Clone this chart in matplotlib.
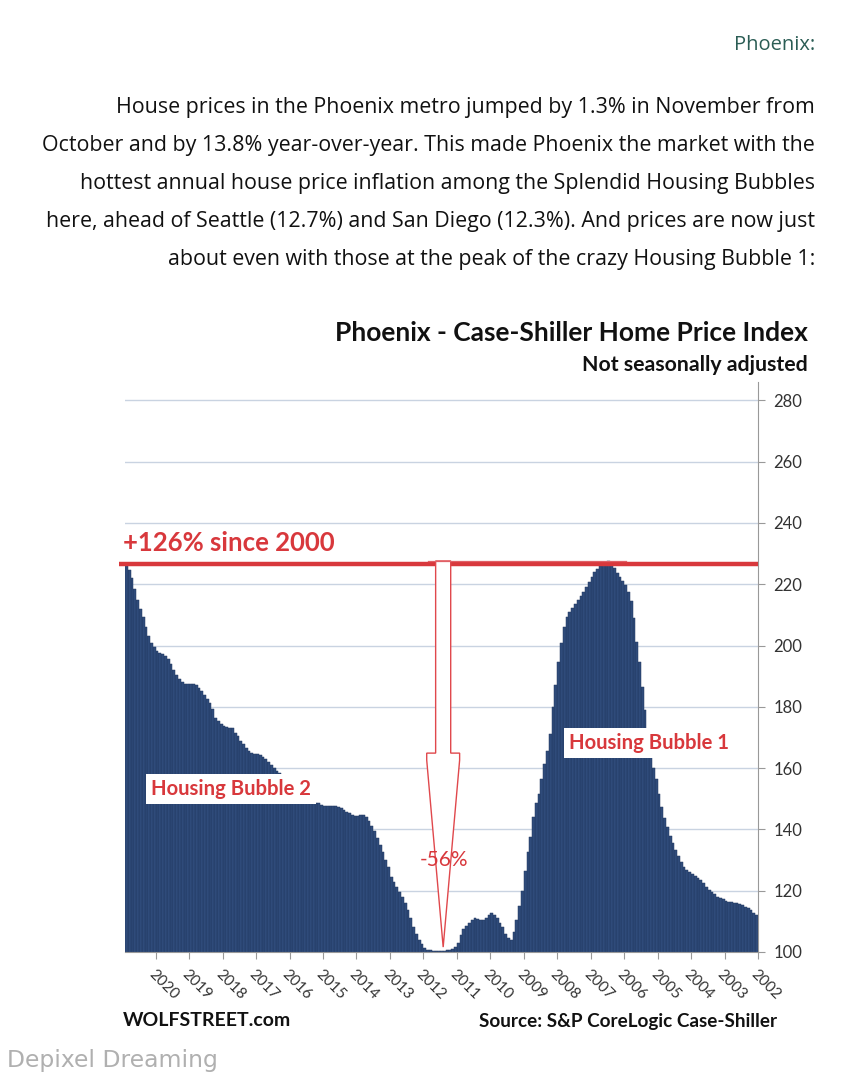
import matplotlib
matplotlib.use("Agg")
import matplotlib.pyplot as plt
from matplotlib.patches import Polygon
import numpy as np

# Phoenix Case-Shiller index, monthly, Jan 2002 .. Nov 2020
years = [2002, 2003, 2004, 2005, 2006, 2007, 2008, 2009, 2010, 2011,
         2012, 2013, 2014, 2015, 2016, 2017, 2018, 2019, 2020]
hpi_2002 = [112.1, 112.8, 113.6, 114.3, 114.8, 115.3, 115.8, 116.0, 116.1, 116.2, 116.4, 116.8]
hpi_2003 = [117.2, 117.6, 118.1, 118.8, 119.5, 120.3, 121.3, 122.4, 123.5, 124.2, 124.9, 125.5]
hpi_2004 = [126.2, 126.9, 127.8, 129.3, 131.2, 133.2, 135.6, 138.0, 140.7, 143.8, 147.3, 151.5]
hpi_2005 = [156.5, 160.2, 166.0, 172.0, 179.0, 186.5, 194.5, 201.0, 209.0, 214.5, 217.5, 219.7]
hpi_2006 = [221.0, 222.3, 223.8, 225.2, 226.6, 227.6, 227.4, 226.8, 226.0, 225.0, 224.0, 222.5]
hpi_2007 = [220.8, 219.0, 217.6, 216.3, 215.0, 213.6, 212.2, 210.8, 209.2, 206.0, 200.8, 194.7]
hpi_2008 = [187.0, 180.0, 171.0, 165.5, 161.5, 156.5, 151.5, 148.5, 144.0, 137.5, 132.5, 126.5]
hpi_2009 = [120.0, 115.0, 110.4, 106.5, 104.0, 104.5, 106.0, 108.0, 109.5, 111.0, 112.0, 112.6]
hpi_2010 = [112.0, 111.0, 110.3, 110.4, 110.8, 111.0, 110.6, 109.6, 108.6, 107.6, 105.5, 102.8]
hpi_2011 = [101.5, 100.9, 100.6, 100.5, 100.3, 100.4, 100.4, 100.4, 100.4, 100.5, 100.8, 101.4]
hpi_2012 = [102.5, 103.9, 106.0, 108.3, 111.0, 113.7, 116.0, 118.0, 119.6, 121.3, 123.0, 124.6]
hpi_2013 = [127.8, 130.0, 132.6, 135.0, 137.2, 139.4, 141.0, 142.6, 144.0, 144.6, 144.7, 144.5]
hpi_2014 = [144.4, 144.8, 145.3, 145.8, 146.3, 146.9, 147.4, 147.5, 147.6, 147.6, 147.7, 147.8]
hpi_2015 = [148.1, 148.5, 148.6, 148.7, 148.7, 148.7, 148.7, 148.8, 148.9, 149.5, 150.5, 151.5]
hpi_2016 = [153.0, 155.0, 156.8, 158.3, 159.2, 160.1, 161.0, 162.0, 163.0, 163.7, 164.2, 164.5]
hpi_2017 = [164.7, 164.9, 165.6, 166.5, 167.8, 169.0, 170.4, 171.6, 173.0, 173.2, 173.5, 173.9]
hpi_2018 = [174.5, 175.4, 176.5, 179.3, 181.1, 182.4, 184.0, 185.2, 186.3, 187.0, 187.3, 187.3]
hpi_2019 = [187.3, 187.5, 188.0, 189.2, 190.5, 192.0, 194.0, 195.6, 196.6, 197.2, 197.7, 198.2]
hpi_2020 = [199.4, 200.8, 203.0, 206.2, 209.3, 212.0, 215.0, 218.5, 222.0, 224.5, 226.5]

hpi = np.array(hpi_2002 + hpi_2003 + hpi_2004 + hpi_2005 + hpi_2006 + hpi_2007 +
               hpi_2008 + hpi_2009 + hpi_2010 + hpi_2011 + hpi_2012 + hpi_2013 +
               hpi_2014 + hpi_2015 + hpi_2016 + hpi_2017 + hpi_2018 + hpi_2019 + hpi_2020)

y_ticks = [100, 120, 140, 160, 180, 200, 220, 240, 260, 280]

para_title = "Phoenix:"
para_lines = [
    "House prices in the Phoenix metro jumped by 1.3% in November from",
    "October and by 13.8% year-over-year. This made Phoenix the market with the",
    "hottest annual house price inflation among the Splendid Housing Bubbles",
    "here, ahead of Seattle (12.7%) and San Diego (12.3%). And prices are now just",
    "about even with those at the peak of the crazy Housing Bubble 1:",
]

W, H = 855, 1080
navy = "#2f4b7a"
red = "#d8383c"
CF = "Lato"


def px(x, y):
    return x / W, 1 - y / H


fig = plt.figure(figsize=(W / 100, H / 100), dpi=100)
fig.patch.set_facecolor("white")

# blog text above the chart
fig.text(*px(815, 45), para_title, ha="right", va="center", fontsize=14.5,
         family="Open Sans", color="#2b5d55")
for i, line in enumerate(para_lines):
    fig.text(*px(815, 108 + 38 * i), line, ha="right", va="center", fontsize=15.4,
             family="Open Sans", color="#111111")

# chart
ax = fig.add_axes([125 / W, 1 - 952 / H, (758 - 125) / W, (952 - 382) / H])
n = len(hpi)
idx = np.arange(n)
ax.bar(idx, hpi, width=1.0, color=navy, edgecolor="#22395f", linewidth=0.35, zorder=2)
ax.set_xlim(n - 0.5, -0.5)
ax.set_ylim(100, 286)

ax.yaxis.tick_right()
ax.set_yticks(y_ticks)
ax.set_yticklabels([str(v) for v in y_ticks], family=CF, fontsize=12, color="#333333")
ax.set_xticks(np.arange(len(years)) * 12 - 0.5)
ax.set_xticklabels([str(y) for y in years], rotation=-45, ha="left", va="top",
                   rotation_mode="anchor", family=CF, fontsize=11, color="#333333")
ax.tick_params(axis="y", length=5, color="#999999", pad=6)
ax.tick_params(axis="x", length=5, color="#999999", pad=6)
ax.grid(axis="y", color="#c9d3e1", linewidth=1)
ax.set_axisbelow(True)
for s in ["left", "top"]:
    ax.spines[s].set_visible(False)
ax.spines["right"].set_color("#999999")
ax.spines["bottom"].set_color("#999999")

# red "+126% since 2000" line at the latest value
last = hpi[-1]
ax.hlines(last, n + 1.5, -0.5, color=red, linewidth=3.2, zorder=4, clip_on=False)
ax.text(n + 0.3, last + 3.0, "+126% since 2000", ha="left", va="bottom",
        family=CF, fontweight="bold", fontsize=18.5, color=red)

# peak-to-trough arrow
peak_i = int(np.argmax(hpi))
trough_i = int(np.argmin(hpi))
peak = hpi[peak_i]
lo = hpi[trough_i]
c = trough_i + 0.4
arrow = [(c + 2.7, peak), (c - 2.7, peak), (c - 2.7, 164.9), (c - 5.9, 164.9),
         (c - 5.9, 162.6), (c, lo + 1.3), (c + 5.9, 162.6), (c + 5.9, 164.9),
         (c + 2.7, 164.9)]
ax.add_patch(Polygon(arrow, closed=True, facecolor="white", edgecolor="#e0484c",
                     linewidth=1.0, zorder=5))
ax.plot([c + 5.5, peak_i - 6], [peak, peak], color="#e06066", linewidth=0.9, zorder=5)
ax.text(c - 0.3, 130, "-56%", ha="center", va="center", family=CF, fontsize=15,
        color=red, zorder=6)

# bubble labels
box = dict(boxstyle="square,pad=0.25", facecolor="white", edgecolor="none")
ax.text(38.5, 168.2, "Housing Bubble 1", ha="center", va="center", family=CF,
        fontweight="bold", fontsize=14.6, color=red, bbox=box, zorder=6)
ax.text(188.5, 153.2, "Housing Bubble 2", ha="center", va="center", family=CF,
        fontweight="bold", fontsize=14.6, color=red, bbox=box, zorder=6)

# chart titles and footers
fig.text(*px(808, 333), "Phoenix - Case-Shiller Home Price Index", ha="right",
         va="center", family=CF, fontweight="bold", fontsize=19, color="#111111")
fig.text(*px(808, 365), "Not seasonally adjusted", ha="right", va="center",
         family=CF, fontweight="bold", fontsize=15.3, color="#111111")
fig.text(*px(123, 1021), "WOLFSTREET.com", ha="left", va="center", family=CF,
         fontweight="bold", fontsize=14, color="#111111")
fig.text(*px(777, 1022), "Source: S&P CoreLogic Case-Shiller", ha="right",
         va="center", family=CF, fontweight="bold", fontsize=13.6, color="#111111")
fig.text(*px(7, 1061), "Depixel Dreaming", ha="left", va="center",
         family="DejaVu Sans", fontsize=16.9, color="#b0b0b0")

fig.savefig("out.png", dpi=100, facecolor="white")
